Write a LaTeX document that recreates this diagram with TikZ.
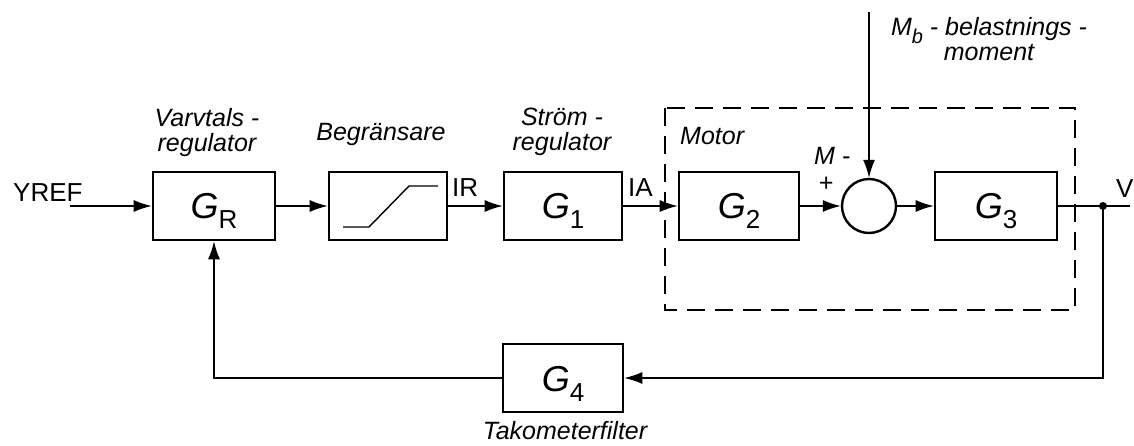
\documentclass[tikz,border=0pt]{standalone}
\usepackage{fontspec}
\setmainfont{Liberation Sans}
\usetikzlibrary{arrows.meta}
\newcommand\blocklabel[2]{\raisebox{-13pt}[0pt][0pt]{{\fontsize{36}{36}\selectfont\itshape #1}\raisebox{-10pt}{\fontsize{26}{26}\selectfont #2}}}
\begin{document}
\begin{tikzpicture}[x=1pt,y=-1pt,
  blk/.style={draw,line width=2.6pt,minimum height=68pt,inner sep=0pt},
  conn/.style={line width=1.4pt,-{Latex[length=18pt,width=12pt]}},
  wire/.style={line width=1.4pt},
  lbl/.style={font=\fontsize{25}{25}\selectfont\itshape,align=center,inner sep=0pt},
  sig/.style={font=\fontsize{26}{26}\selectfont,inner sep=0pt},
  motorbox/.style={draw,line width=1.8pt,dash pattern=on 18pt off 10pt}
  ]
\useasboundingbox (0,0) rectangle (1134,446);

% blocks
\node[blk,minimum width=122pt] (GR) at (214,206) {\blocklabel{G}{R}};
\node[blk,minimum width=118pt] (LIM) at (388,206) {};
\node[blk,minimum width=118pt] (G1) at (563,206) {\blocklabel{G}{1}};
\node[blk,minimum width=120pt] (G2) at (739,206) {\blocklabel{G}{2}};
\node[draw,circle,line width=2.4pt,minimum size=54pt,inner sep=0pt] (S) at (869,206) {};
\node[blk,minimum width=122pt] (G3) at (996,206) {\blocklabel{G}{3}};
\node[blk,minimum width=120pt] (G4) at (563,378) {\blocklabel{G}{4}};

% limiter characteristic
\draw[line width=1.4pt] (343,227) -- (369,227) -- (409,186) -- (438,186);

% motor dashed frame
\draw[motorbox] (665,108) rectangle (1075,310);

% coordinates
\coordinate (in) at (70,206);
\coordinate (J) at (1103,206);
\coordinate (out) at (1130,206);
\coordinate (fb) at (1103,378);
\coordinate (mb) at (869,12);

% connectors
\draw[conn] (in) -- (GR.west);
\draw[conn] (GR.east) -- (LIM.west);
\draw[conn] (LIM.east) -- (G1.west);
\draw[conn] (G1.east) -- (G2.west);
\draw[conn] (G2.east) -- (S.west);
\draw[conn] (S.east) -- (G3.west);
\draw[wire] (G3.east) -- (out);
\draw[conn] (J) -- (fb) -- (G4.east);
\draw[conn] (G4.west) -| (GR.south);
\draw[conn] (mb) -- (S.north);
\fill (J) circle (4pt);

% signal labels
\node[sig,anchor=base west] (yref) at (13,202) {YREF};
\node[sig,anchor=base west] (ir) at (452,197) {IR};
\node[sig,anchor=base west] (ia) at (628,197) {IA};
\node[sig,anchor=base west] (v) at (1116,198) {V};

% text labels
\node[lbl,anchor=north] (l1) at (207,108) {Varvtals -\\regulator};
\node[lbl,anchor=north] (l2) at (381,123) {Begränsare};
\node[lbl,anchor=north] (l3) at (562,108) {Ström -\\regulator};
\node[lbl,anchor=base west] (l4) at (680,145) {Motor};
\node[lbl,anchor=base west] (lm) at (814,165) {M -};
\node[lbl] (lp) at (826,184) {+};
\node[lbl,anchor=north] (l5) at (989,17) {M\raisebox{-8pt}{\fontsize{20}{20}\selectfont b} - belastnings -\\moment};
\node[lbl,anchor=north] (l6) at (565,421) {Takometerfilter};
\end{tikzpicture}
\end{document}
